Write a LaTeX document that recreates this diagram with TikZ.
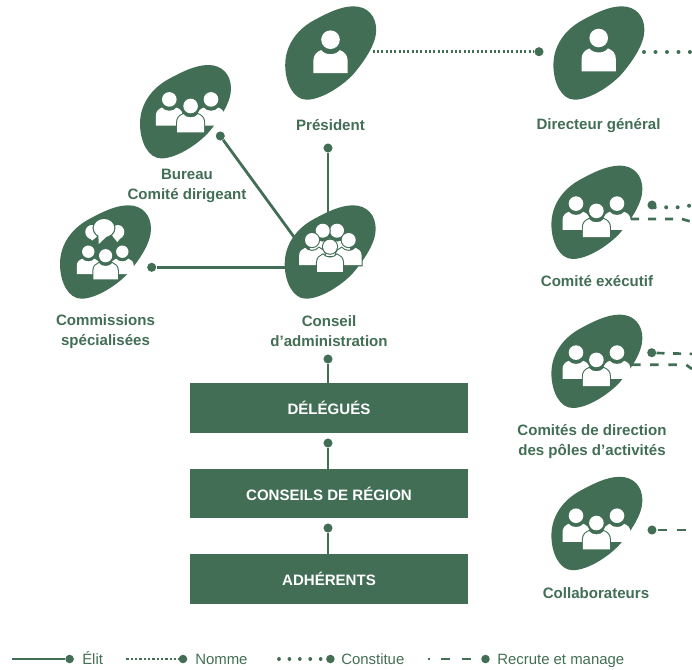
\documentclass[tikz,border=0pt]{standalone}
\usepackage{fontspec}
\setmainfont{Liberation Sans}
\definecolor{vert}{HTML}{426E55}
\tikzset{
  px/.style={x=0.75pt,y=-0.75pt},
  lab/.style={font=\fontsize{11.3pt}{15pt}\selectfont\bfseries,text=vert,align=center,inner sep=0},
  leg/.style={font=\fontsize{11.2pt}{14pt}\selectfont,text=vert,anchor=base west,inner sep=0},
  boxn/.style={fill=vert,text=white,minimum width=208.5pt,minimum height=37.5pt,inner sep=0,font=\fontsize{11.3pt}{14pt}\selectfont\bfseries},
  dotn/.style={circle,fill=vert,minimum size=6.8pt,inner sep=0},
  ldotn/.style={circle,fill=vert,minimum size=6.4pt,inner sep=0},
  elit/.style={draw=vert,line width=2.1pt},
  nomme/.style={draw=vert,line width=1.9pt,dash pattern=on 1.6pt off 1.65pt},
  constit/.style={draw=vert,line width=3pt,line cap=round,dash pattern=on 0.01pt off 8.6pt},
  recrute/.style={draw=vert,line width=2pt,dash pattern=on 6pt off 6.75pt}
}
\newcommand{\blobat}[1]{%
  \fill[vert,shift={(#1)}] (23,-46.7) .. controls (37,-46.7) and (45.7,-37) .. (45.7,-23)
    .. controls (45.7,-9) and (34,8) .. (23,21)
    .. controls (12,33) and (-9,46.7) .. (-24,46.7)
    .. controls (-37,46.7) and (-45.3,30) .. (-45.3,12)
    .. controls (-45.3,-8) and (-33,-24) .. (-16,-33)
    .. controls (-4,-39.5) and (10,-46.7) .. (23,-46.7) -- cycle;}
% \personat{blob}{dx}{dy}{r}{outline colour or none}
\newcommand{\personat}[5]{%
  \begin{scope}[shift={(#1)},shift={(#2,#3)},scale=#4]
    \path[fill=white,preaction={draw=#5,line width=1.6pt}] (-1.85,3.6) -- (-1.85,2.3)
      .. controls (-1.85,1.6) and (-1.45,1.3) .. (-1.0,1.12)
      .. controls (-0.6,1.7) and (0.6,1.7) .. (1.0,1.12)
      .. controls (1.45,1.3) and (1.85,1.6) .. (1.85,2.3) -- (1.85,3.6) -- cycle;
    \path[fill=white,preaction={draw=#5,line width=1.6pt}] (0,0) circle (1);
  \end{scope}}
\begin{document}
\begin{tikzpicture}[px]
\useasboundingbox (0,0) rectangle (692,669);
\clip (0,0) rectangle (692,669);
% blob anchors
\coordinate (pres) at (330.5,53);
\coordinate (dg) at (598.7,53);
\coordinate (bur) at (185.3,111.7);
\coordinate (com) at (105.3,252);
\coordinate (cons) at (330,252);
\coordinate (exec) at (596.7,212.3);
\coordinate (dir) at (596.7,361.3);
\coordinate (coll) at (596.7,523.5);
% boxes
\node[boxn] (del) at (329,408) {DÉLÉGUÉS};
\node[boxn,minimum height=37pt] (reg) at (329,493.5) {CONSEILS DE RÉGION};
\node[boxn] (adh) at (329,579) {ADHÉRENTS};
% dots
\node[dotn] (dA) at (328,148) {};
\node[dotn] (dB) at (220.3,136) {};
\node[dotn] (dC) at (151.7,267.3) {};
\node[dotn] (dD) at (539,51.7) {};
\node[dotn] (dE) at (328,359) {};
\node[dotn] (dF) at (328,443) {};
\node[dotn] (dG) at (328,528) {};
\node[dotn] (dH) at (652,205) {};
\node[dotn] (dI) at (651.7,352.7) {};
\node[dotn] (dJ) at (652,530) {};
% helper ends
\coordinate (consB) at (305,252);
\coordinate (consC) at (310,267.3);
\coordinate (consA) at (328,252);
\coordinate (presD) at (372.5,51.7);
\coordinate (dgS) at (644,52);
\coordinate (dgE) at (695,52);
\coordinate (exS) at (654.7,207.3);
\coordinate (exM) at (677.3,207.3);
\coordinate (exE) at (689.5,205.7);
\coordinate (exdS) at (631,219);
\coordinate (exdM) at (682,219);
\coordinate (exdE) at (692,222);
\coordinate (diS) at (656.5,353);
\coordinate (diE) at (695,354);
\coordinate (didS) at (632,364.7);
\coordinate (didM) at (686,364.7);
\coordinate (didE) at (692,369);
\coordinate (coS) at (658,530);
\coordinate (coE) at (692,530);
% connectors
\draw[elit] (dA) -- (consA);
\draw[elit] (dB) -- (consB);
\draw[elit] (dC) -- (consC);
\draw[elit] (dE) -- (del.north -| dE);
\draw[elit] (dF) -- (reg.north -| dF);
\draw[elit] (dG) -- (adh.north -| dG);
\draw[nomme] (presD) -- (dD);
\draw[constit] (dgS) -- (dgE);
\draw[constit] (exS) -- (exM) -- (exE);
\draw[recrute] (exdS) -- (exdM) -- (exdE);
\draw[recrute,dash pattern=on 6pt off 6.4pt] (diS) -- (diE);
\draw[recrute,dash pattern=on 6.4pt off 7.2pt] (didS) -- (didM) -- (didE);
\draw[recrute,dash pattern=on 7.1pt off 6.8pt] (coS) -- (coE);
% blobs
\blobat{pres}\blobat{dg}\blobat{bur}\blobat{com}\blobat{cons}\blobat{exec}\blobat{dir}\blobat{coll}
% single persons
\personat{pres}{0}{-13.3}{9.3}{none}
\personat{dg}{0}{-15}{9.3}{none}
% groups of three
\personat{bur}{25.7}{-12.3}{7.3}{none}
\personat{bur}{-16}{-12.3}{7.3}{none}
\personat{bur}{5.3}{-5.7}{7.3}{vert}
\foreach \b/\oy in {exec/-8.7,dir/-8.7,coll/-7.8}{
  \personat{\b}{20.3}{\oy}{7.3}{none}
  \personat{\b}{-20.7}{\oy}{7.3}{none}
  \personat{\b}{-0.3}{\oy+7.3}{7.3}{vert}
}
% commissions
\begin{scope}[shift={(com)}]
  \fill[white] (-13.5,-20) ellipse [x radius=6.5,y radius=7];
  \fill[white] (-17,-15) -- (-13,-11.5) -- (-9,-15) -- cycle;
  \fill[white] (12.5,-20) ellipse [x radius=6.5,y radius=7];
  \fill[white] (16,-15) -- (12,-10) -- (8,-15) -- cycle;
  \path[fill=white,preaction={draw=vert,line width=1.8pt}] (-1.3,-24) ellipse [x radius=10.3,y radius=9];
  \path[fill=white] (-7,-18) -- (-6.6,-8) -- (3,-17) -- cycle;
\end{scope}
\personat{com}{17}{-0.3}{6.2}{none}
\personat{com}{-17}{-0.3}{6.2}{none}
\personat{com}{0.3}{3.7}{6.6}{vert}
% conseil
\personat{cons}{7}{-21.3}{7}{vert}
\personat{cons}{-7.3}{-21.3}{7}{vert}
\personat{cons}{18.7}{-12}{7}{vert}
\personat{cons}{-18}{-12}{7}{vert}
\personat{cons}{0}{-5.3}{7}{vert}
% labels
\node[lab] (lPres) at (330.5,125) {Président};
\node[lab] (lDg) at (598.5,126) {Directeur général};
\node[lab] (lBur) at (187,186) {Bureau\\Comité dirigeant};
\node[lab] (lCom) at (105.5,332) {Commissions\\spécialisées};
\node[lab] (lCons) at (329,331.5) {Conseil\\d’administration};
\node[lab] (lEx) at (597,281.5) {Comité exécutif};
\node[lab] (lDir) at (592,441.5) {Comités de direction\\des pôles d’activités};
\node[lab] (lColl) at (596,593.5) {Collaborateurs};
% legend
\node[ldotn] (k1) at (69.6,659) {};
\coordinate (k1s) at (12,659);
\draw[elit] (k1s) -- (k1);
\node[leg] (t1) at (82,664) {Élit};
\node[ldotn] (k2) at (183,659) {};
\coordinate (k2s) at (126.4,659);
\draw[nomme] (k2s) -- (k2);
\node[leg] (t2) at (195,664) {Nomme};
\node[ldotn] (k3) at (330.4,659) {};
\coordinate (k3s) at (279,659);
\draw[draw=vert,line width=2.8pt,line cap=round,dash pattern=on 0.01pt off 7.8pt] (k3s) -- (k3);
\node[leg] (t3) at (341,664) {Constitue};
\node[ldotn] (k4) at (485.5,659) {};
\coordinate (k4s) at (428,659);
\coordinate (k4e) at (472,659);
\draw[draw=vert,line width=2pt,dash pattern=on 1.5pt off 7.9pt on 7.1pt off 8.8pt on 7.3pt off 20pt] (k4s) -- (k4e);
\node[leg] (t4) at (497,664) {Recrute et manage};
\end{tikzpicture}
\end{document}
